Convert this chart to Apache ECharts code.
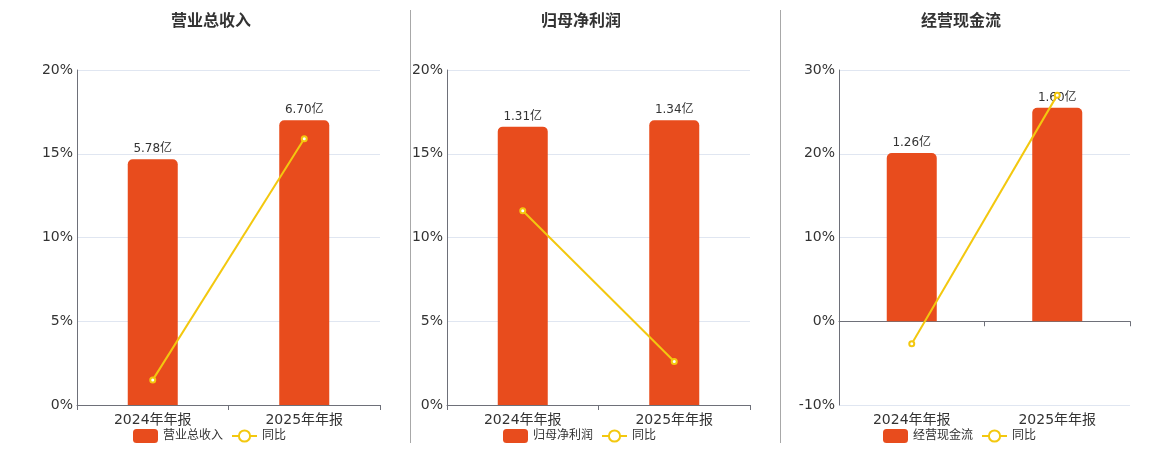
<!DOCTYPE html>
<html>
<head>
<meta charset="utf-8">
<script src="https://cdn.jsdelivr.net/npm/echarts@6/dist/echarts.min.js"></script>
<style>
  html, body { margin: 0; padding: 0; background: #fff; }
  #main { width: 1160px; height: 450px; }
</style>
</head>
<body>
<div id="main"></div>
<script>
// 数据
var categories = ['2024年年报', '2025年年报'];
var panelTitles = ['营业总收入', '归母净利润', '经营现金流'];
var revenue = [5.78, 6.70];      // 亿
var netProfit = [1.31, 1.34];    // 亿
var cashFlow = [1.26, 1.60];     // 亿
var revenueYoy = [1.5, 15.9];    // %
var netProfitYoy = [11.6, 2.6];  // %
var cashFlowYoy = [-2.7, 27.0];  // %
var pctMin = [0, 0, -10];
var pctMax = [20, 20, 30];
var pctStep = [5, 5, 10];

var fontFamily = 'DejaVu Sans, Noto Sans CJK SC, sans-serif';
var barColor = '#E84C1D';
var lineColor = '#F3C80F';

var bars = [revenue, netProfit, cashFlow];
var yoys = [revenueYoy, netProfitYoy, cashFlowYoy];

// 布局
var grids = [
    {left: 77, right: 780, top: 70, bottom: 45},
    {left: 447, right: 410, top: 70, bottom: 45},
    {left: 839, right: 30, top: 70, bottom: 45}
];
var centers = [210, 580, 960];

var myChart = echarts.init(document.getElementById('main'));

var title = [], legend = [], xAxis = [], yAxis = [], series = [];
var xIdx = 0;

for (var i = 0; i < 3; i++) {
    title.push({
        text: panelTitles[i],
        left: centers[i] - 44,
        top: 9,
        textStyle: {fontSize: 16, fontWeight: 'bold', color: '#333', fontFamily: fontFamily}
    });
    legend.push({
        data: [panelTitles[i], '同比'],
        left: centers[i] - 82,
        top: 424,
        textStyle: {fontSize: 12, color: '#333', fontFamily: fontFamily}
    });

    var hasNeg = pctMin[i] < 0;
    var mainX = xIdx;
    xAxis.push({
        type: 'category',
        gridIndex: i,
        data: categories,
        axisLine: {show: !hasNeg, onZero: false, lineStyle: {color: '#6E7079'}},
        axisTick: {show: !hasNeg},
        axisLabel: {fontSize: 14, color: '#333', fontFamily: fontFamily, margin: 8}
    });
    xIdx++;
    if (hasNeg) {
        // 零轴线
        xAxis.push({
            type: 'category',
            gridIndex: i,
            position: 'bottom',
            data: categories,
            axisLine: {show: true, onZero: true, lineStyle: {color: '#6E7079'}},
            axisTick: {show: true},
            axisLabel: {show: false}
        });
        xIdx++;
    }

    yAxis.push({
        type: 'value',
        gridIndex: i,
        min: pctMin[i],
        max: pctMax[i],
        interval: pctStep[i],
        axisLine: {show: true, lineStyle: {color: '#6E7079'}},
        axisTick: {show: false},
        axisLabel: {formatter: '{value}%', fontSize: 14, color: '#333', fontFamily: fontFamily, margin: 4},
        splitLine: {lineStyle: {color: '#E0E6F1'}}
    });
    var barMax = Math.max.apply(null, bars[i]) / 0.85;
    var barMin = hasNeg ? barMax * pctMin[i] / pctMax[i] : 0;
    yAxis.push({
        type: 'value',
        gridIndex: i,
        min: barMin,
        max: barMax,
        show: false,
        splitLine: {show: false}
    });

    series.push({
        name: panelTitles[i],
        type: 'bar',
        xAxisIndex: mainX,
        yAxisIndex: i * 2 + 1,
        data: bars[i],
        barWidth: 50,
        itemStyle: {color: barColor, borderRadius: [5, 5, 0, 0]},
        label: {
            show: true,
            position: 'top',
            distance: 4,
            formatter: function (p) { return p.value.toFixed(2) + '亿'; },
            fontSize: 12,
            color: '#333',
            fontFamily: fontFamily
        }
    });
    series.push({
        name: '同比',
        type: 'line',
        xAxisIndex: mainX,
        yAxisIndex: i * 2,
        data: yoys[i],
        symbol: 'emptyCircle',
        symbolSize: 5,
        lineStyle: {color: lineColor, width: 2},
        itemStyle: {color: lineColor},
        z: 5
    });
}

var option = {
    animation: false,
    textStyle: {fontFamily: fontFamily},
    title: title,
    legend: legend,
    grid: grids,
    xAxis: xAxis,
    yAxis: yAxis,
    series: series,
    graphic: [
        {type: 'line', shape: {x1: 410.5, y1: 10, x2: 410.5, y2: 443}, style: {stroke: '#A8A8A8', lineWidth: 1}},
        {type: 'line', shape: {x1: 780.5, y1: 10, x2: 780.5, y2: 443}, style: {stroke: '#A8A8A8', lineWidth: 1}}
    ]
};

myChart.setOption(option);
</script>
</body>
</html>
